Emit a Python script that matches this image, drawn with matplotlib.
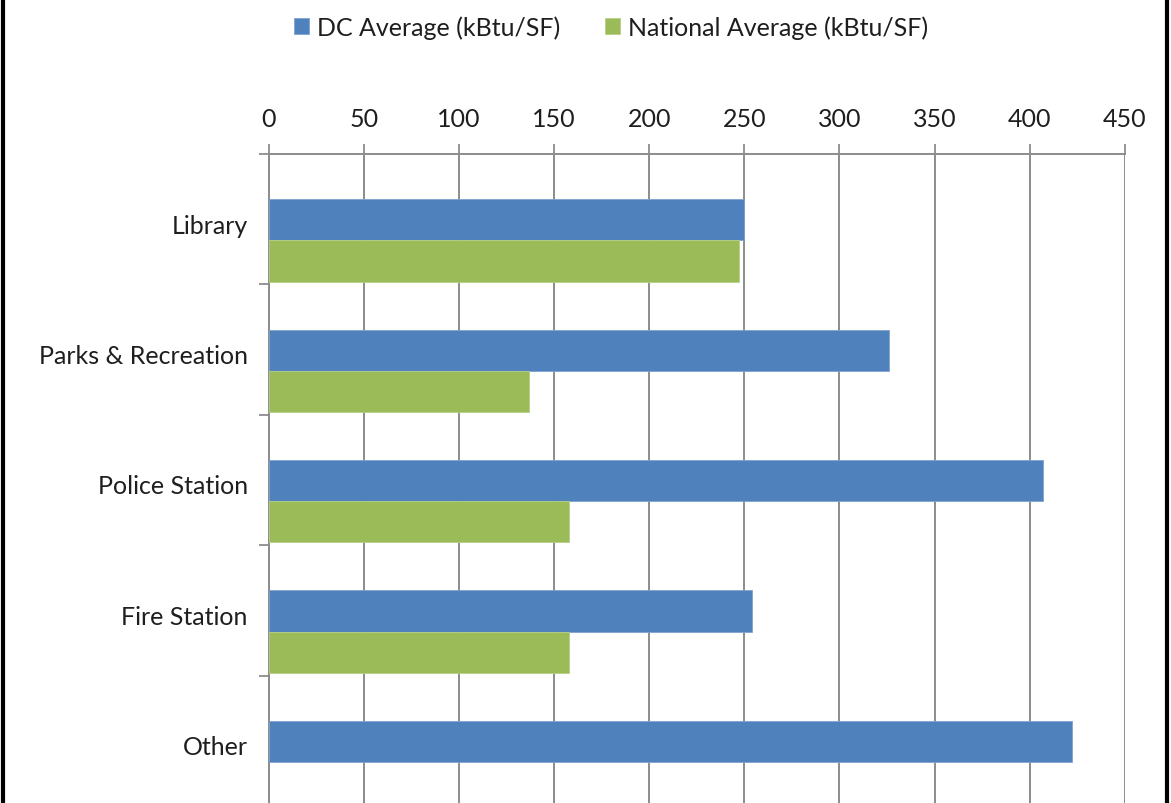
import matplotlib
matplotlib.use("Agg")
import matplotlib.pyplot as plt
from matplotlib.lines import Line2D
import numpy as np

categories = ["Library", "Parks & Recreation", "Police Station", "Fire Station", "Other"]
dc_avg = [250, 326, 407, 254, 422]
national_avg = [247, 137, 158, 158, None]
x_ticks = [0, 50, 100, 150, 200, 250, 300, 350, 400, 450]

BLUE = "#4F81BD"
GREEN = "#9BBB59"
GRID = "#8C8C8C"
TEXT = "#1E1E1E"
FONT = "Lato"
FS = 18

plt.rcParams["font.family"] = [FONT, "DejaVu Sans"]

W, H = 1171, 804
fig = plt.figure(figsize=(W / 100, H / 100), dpi=100)
ax = fig.add_axes([268.5 / W, -3 / H, (1125 - 268.5) / W, (804 + 3 - 155) / H])

# bar layout inside each category slot (slot height = 1)
bar_h = 0.316
blue_off = 0.504
green_off = 0.82

pos = np.arange(len(categories))
ax.barh(pos + blue_off, dc_avg, height=bar_h, color=BLUE,
        edgecolor="#7FA3D0", linewidth=0.6, zorder=3, label="DC Average (kBtu/SF)")
nat_idx = [i for i, v in enumerate(national_avg) if v is not None]
ax.barh(pos[nat_idx] + green_off, [national_avg[i] for i in nat_idx], height=bar_h,
        color=GREEN, edgecolor="#B6CF87", linewidth=0.6, zorder=3,
        label="National Average (kBtu/SF)")

ax.set_xlim(0, 450)
ax.set_ylim(len(categories), 0)

# x axis on top
ax.xaxis.tick_top()
ax.set_xticks(x_ticks)
ax.set_xticklabels([str(t) for t in x_ticks], fontsize=FS, color=TEXT)
ax.tick_params(axis="x", which="major", direction="out", length=7, width=1.3,
               color=GRID, pad=10)
ax.grid(axis="x", color=GRID, linewidth=1.4, zorder=0)

# y axis: tick marks on slot boundaries, labels at slot centres
ax.set_yticks(np.arange(len(categories) + 1))
ax.set_yticklabels([])
ax.set_yticks(pos + 0.53, minor=True)
ax.set_yticklabels(categories, minor=True, fontsize=FS, color=TEXT)
ax.tick_params(axis="y", which="major", direction="out", length=7, width=1.3, color=GRID)
ax.tick_params(axis="y", which="minor", length=0, pad=15)

for side in ["right", "bottom"]:
    ax.spines[side].set_visible(False)
for side in ["top", "left"]:
    ax.spines[side].set_color(GRID)
    ax.spines[side].set_linewidth(1.4)

leg = fig.legend(loc="center", bbox_to_anchor=(611 / W, 1 - 28 / H), ncol=2,
                 frameon=False, fontsize=FS, handlelength=0.6, handleheight=0.6,
                 handletextpad=0.3, columnspacing=1.8, labelcolor=TEXT)

# outer frame lines on the left and right
fig.add_artist(Line2D([3 / W, 3 / W], [0, 1], color="black", linewidth=3,
                      transform=fig.transFigure))
fig.add_artist(Line2D([1167 / W, 1167 / W], [0, 1], color="black", linewidth=3,
                      transform=fig.transFigure))

fig.savefig("out.png", dpi=100)
